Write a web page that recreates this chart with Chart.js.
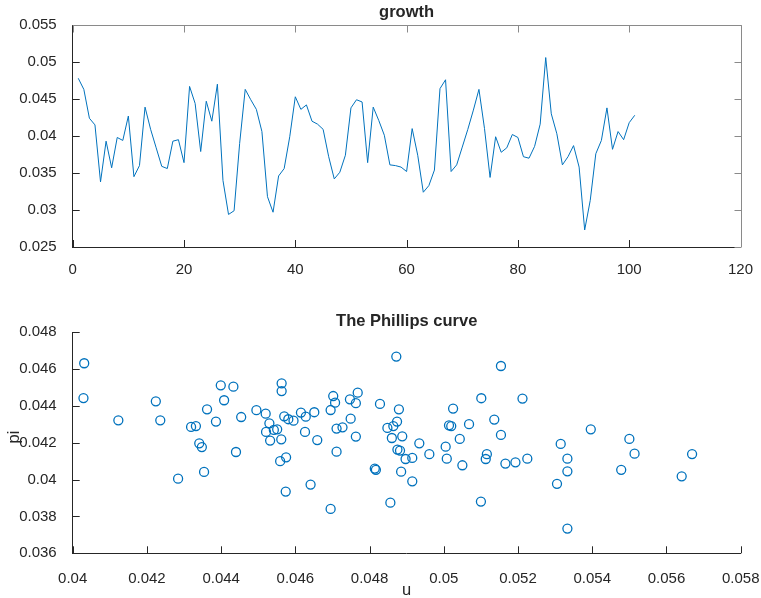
<!DOCTYPE html>
<html lang="en">
<head>
  <meta charset="UTF-8">
  <title>growth / The Phillips curve</title>
  <script src="https://cdn.jsdelivr.net/npm/chart.js"></script>
  <style>
    * { margin: 0; padding: 0; box-sizing: border-box; }
    body { background: #fff; width: 761px; height: 598px; overflow: hidden; position: relative; }
    .panel { position: absolute; left: 0; }
    #top { top: 0; }
    #bottom { top: 290px; }
  </style>
</head>
<body>
  <div class="panel" id="top"><canvas id="growthChart" width="761" height="290"></canvas></div>
  <div class="panel" id="bottom"><canvas id="phillipsChart" width="761" height="308"></canvas></div>

  <script>
    // growth series, t = 1..101
    const growth = [
      0.0478, 0.0463, 0.0424, 0.0415, 0.0338, 0.0393, 0.0357, 0.0398, 0.0394, 0.0427,
      0.0345, 0.0360, 0.0439, 0.0409, 0.0384, 0.0359, 0.0356, 0.0393, 0.0395, 0.0364,
      0.0467, 0.0444, 0.0379, 0.0447, 0.0420, 0.0470, 0.0340, 0.0294, 0.0299, 0.0390,
      0.0463, 0.0449, 0.0436, 0.0406, 0.0318, 0.0297, 0.0346, 0.0356, 0.0399, 0.0453,
      0.0436, 0.0442, 0.0420, 0.0416, 0.0409, 0.0372, 0.0342, 0.0351, 0.0374, 0.0438,
      0.0449, 0.0446, 0.0364, 0.0439, 0.0421, 0.0401, 0.0361, 0.0360, 0.0358, 0.0352,
      0.0410, 0.0374, 0.0324, 0.0333, 0.0354, 0.0464, 0.0476, 0.0352, 0.0361, 0.0385,
      0.0409, 0.0435, 0.0463, 0.0410, 0.0344, 0.0399, 0.0378, 0.0384, 0.0402, 0.0398,
      0.0372, 0.0370, 0.0386, 0.0416, 0.0506, 0.0430, 0.0403, 0.0361, 0.0372, 0.0387,
      0.0358, 0.0273, 0.0313, 0.0376, 0.0394, 0.0438, 0.0382, 0.0406, 0.0395, 0.0418,
      0.0428
    ];

    // Phillips curve: unemployment u vs inflation pi
    const u = [
      0.04031, 0.04029, 0.04123, 0.04224, 0.04236, 0.04284, 0.04319, 0.04332, 0.04341, 0.04348,
      0.04354, 0.04362, 0.04386, 0.04399, 0.04408, 0.04433, 0.04440, 0.04454, 0.04495, 0.04520,
      0.04530, 0.04521, 0.04532, 0.04542, 0.04551, 0.04559, 0.04562, 0.04563, 0.04563, 0.04570,
      0.04575, 0.04574, 0.04581, 0.04595, 0.04615, 0.04628, 0.04651, 0.04626, 0.04641, 0.04659,
      0.04695, 0.04702, 0.04707, 0.04711, 0.04727, 0.04711, 0.04695, 0.04749, 0.04747, 0.04763,
      0.04768, 0.04763, 0.04814, 0.04817, 0.04828, 0.04848, 0.04856, 0.04860, 0.04864, 0.04872,
      0.04874, 0.04879, 0.04888, 0.04875, 0.04882, 0.04885, 0.04897, 0.04915, 0.04915, 0.04934,
      0.04961, 0.05005, 0.05008, 0.05014, 0.05020, 0.05025, 0.05043, 0.05050, 0.05068, 0.05101,
      0.05100, 0.05113, 0.05116, 0.05136, 0.05154, 0.05154, 0.05166, 0.05193, 0.05225, 0.05212,
      0.05305, 0.05315, 0.05333, 0.05333, 0.05333, 0.05396, 0.05478, 0.05500, 0.05514, 0.05641,
      0.05669
    ];
    const pi = [
      0.04632, 0.04443, 0.04322, 0.04425, 0.04322, 0.04005, 0.04286, 0.04291, 0.04197, 0.04177,
      0.04042, 0.04382, 0.04315, 0.04512, 0.04431, 0.04505, 0.04150, 0.04340, 0.04377, 0.04358,
      0.04306, 0.04259, 0.04212, 0.04270, 0.04273, 0.04100, 0.04219, 0.04523, 0.04481, 0.04344,
      0.04121, 0.03935, 0.04328, 0.04320, 0.04364, 0.04342, 0.04366, 0.04259, 0.03973, 0.04215,
      0.04378, 0.04454, 0.04418, 0.04277, 0.04284, 0.04152, 0.03841, 0.04331, 0.04436, 0.04415,
      0.04472, 0.04234, 0.04060, 0.04053, 0.04411, 0.04281, 0.03875, 0.04226, 0.04291, 0.04668,
      0.04315, 0.04382, 0.04235, 0.04163, 0.04158, 0.04043, 0.04112, 0.03991, 0.04118, 0.04197,
      0.04138, 0.04179, 0.04114, 0.04295, 0.04291, 0.04386, 0.04221, 0.04078, 0.04301, 0.04442,
      0.03881, 0.04112, 0.04138, 0.04326, 0.04617, 0.04243, 0.04087, 0.04094, 0.04114, 0.04440,
      0.03977, 0.04194, 0.04114, 0.04045, 0.03734, 0.04273, 0.04053, 0.04221, 0.04141, 0.04018,
      0.04139
    ];

    // tick values
    const growthXTicks = [0, 20, 40, 60, 80, 100, 120];
    const growthYTicks = [0.025, 0.03, 0.035, 0.04, 0.045, 0.05, 0.055];
    const uTicks = [0.04, 0.042, 0.044, 0.046, 0.048, 0.05, 0.052, 0.054, 0.056, 0.058];
    const piTicks = [0.036, 0.038, 0.04, 0.042, 0.044, 0.046, 0.048];

    const FONT = "'Liberation Sans', Arial, Helvetica, sans-serif";
    const TEXT = '#262626';
    const BLUE = '#0072bd';

    Chart.defaults.font.family = FONT;
    Chart.defaults.color = TEXT;

    const fmt = v => String(parseFloat(Number(v).toFixed(4)));
    const fixTicks = list => scale => { scale.ticks = list.map(v => ({ value: v })); };

    // matlab-ish axes: inward ticks, optional box, titles and axis labels
    const matlabAxes = {
      id: 'matlabAxes',
      afterDraw(chart, args, o) {
        const { ctx, chartArea: a } = chart;
        const x = chart.scales.x, y = chart.scales.y;
        const L = 7;
        ctx.save();
        ctx.lineWidth = 1;
        ctx.strokeStyle = TEXT;
        ctx.beginPath();
        x.ticks.forEach(t => {
          const px = Math.round(x.getPixelForValue(t.value)) + 0.5;
          ctx.moveTo(px, a.bottom);
          ctx.lineTo(px, a.bottom - L);
        });
        y.ticks.forEach(t => {
          const py = Math.round(y.getPixelForValue(t.value)) + 0.5;
          ctx.moveTo(a.left, py);
          ctx.lineTo(a.left + L, py);
        });
        ctx.stroke();

        if (o.box) {
          const top = Math.round(a.top) + 0.5;
          const right = Math.round(a.right) + 0.5;
          ctx.strokeStyle = '#8a8a8a';
          ctx.beginPath();
          ctx.moveTo(a.left, top);
          ctx.lineTo(right, top);
          ctx.lineTo(right, a.bottom);
          x.ticks.forEach(t => {
            const px = Math.round(x.getPixelForValue(t.value)) + 0.5;
            ctx.moveTo(px, top);
            ctx.lineTo(px, top + L);
          });
          y.ticks.forEach(t => {
            const py = Math.round(y.getPixelForValue(t.value)) + 0.5;
            ctx.moveTo(right, py);
            ctx.lineTo(right - L, py);
          });
          ctx.stroke();
        }

        ctx.fillStyle = TEXT;
        ctx.textAlign = 'center';
        ctx.textBaseline = 'middle';
        const cx = (a.left + a.right) / 2;
        if (o.title) {
          ctx.font = `bold 16.5px ${FONT}`;
          ctx.fillText(o.title, cx, o.titleY);
        }
        if (o.xLabel) {
          ctx.font = `16.5px ${FONT}`;
          ctx.fillText(o.xLabel, cx, o.xLabelY);
        }
        if (o.yLabel) {
          ctx.font = `16.5px ${FONT}`;
          ctx.translate(o.yLabelX, o.yLabelY);
          ctx.rotate(-Math.PI / 2);
          ctx.fillText(o.yLabel, 0, 0);
        }
        ctx.restore();
      }
    };

    function axis(min, max, ticks, pad, fit) {
      return {
        type: 'linear',
        min: min,
        max: max,
        afterBuildTicks: fixTicks(ticks),
        afterFit: s => {
          fit(s);
          // keep the plot box where the layout padding puts it
          s.paddingLeft = 0; s.paddingRight = 0;
          s.paddingTop = 0; s.paddingBottom = 0;
        },
        grid: { display: false },
        border: { display: true, color: TEXT, width: 1 },
        ticks: {
          color: TEXT,
          font: { size: 15 },
          padding: pad,
          maxRotation: 0,
          autoSkip: false,
          callback: v => fmt(v)
        }
      };
    }

    // Top: growth line
    new Chart(document.getElementById('growthChart'), {
      type: 'line',
      data: {
        datasets: [{
          data: growth.map((g, i) => ({ x: i + 1, y: g })),
          borderColor: BLUE,
          borderWidth: 1,
          pointRadius: 0,
          tension: 0,
          fill: false
        }]
      },
      options: {
        responsive: false,
        animation: false,
        layout: { padding: { top: 25, right: 20.5, bottom: 0, left: 0 } },
        plugins: {
          legend: { display: false },
          tooltip: { enabled: false },
          matlabAxes: { box: true, title: 'growth', titleY: 12 }
        },
        scales: {
          x: axis(0, 120, growthXTicks, 6, s => { s.height = 43; }),
          y: axis(0.025, 0.055, growthYTicks, 8, s => { s.width = 72.7; })
        }
      },
      plugins: [matlabAxes]
    });

    // Bottom: Phillips curve scatter
    new Chart(document.getElementById('phillipsChart'), {
      type: 'scatter',
      data: {
        datasets: [{
          data: u.map((v, i) => ({ x: v, y: pi[i] })),
          borderColor: BLUE,
          backgroundColor: 'rgba(0,0,0,0)',
          borderWidth: 1.3,
          pointRadius: 4.5,
          pointHoverRadius: 4.5
        }]
      },
      options: {
        responsive: false,
        animation: false,
        layout: { padding: { top: 42.3, right: 20.3, bottom: 0, left: 0 } },
        plugins: {
          legend: { display: false },
          tooltip: { enabled: false },
          matlabAxes: {
            box: false,
            title: 'The Phillips curve', titleY: 31,
            xLabel: 'u', xLabelY: 300,
            yLabel: 'pi', yLabelX: 14, yLabelY: 147
          }
        },
        scales: {
          x: axis(0.04, 0.058, uTicks, 9, s => { s.height = 44.7; }),
          y: axis(0.036, 0.048, piTicks, 8, s => { s.width = 72.7; })
        }
      },
      plugins: [matlabAxes]
    });
  </script>
</body>
</html>
